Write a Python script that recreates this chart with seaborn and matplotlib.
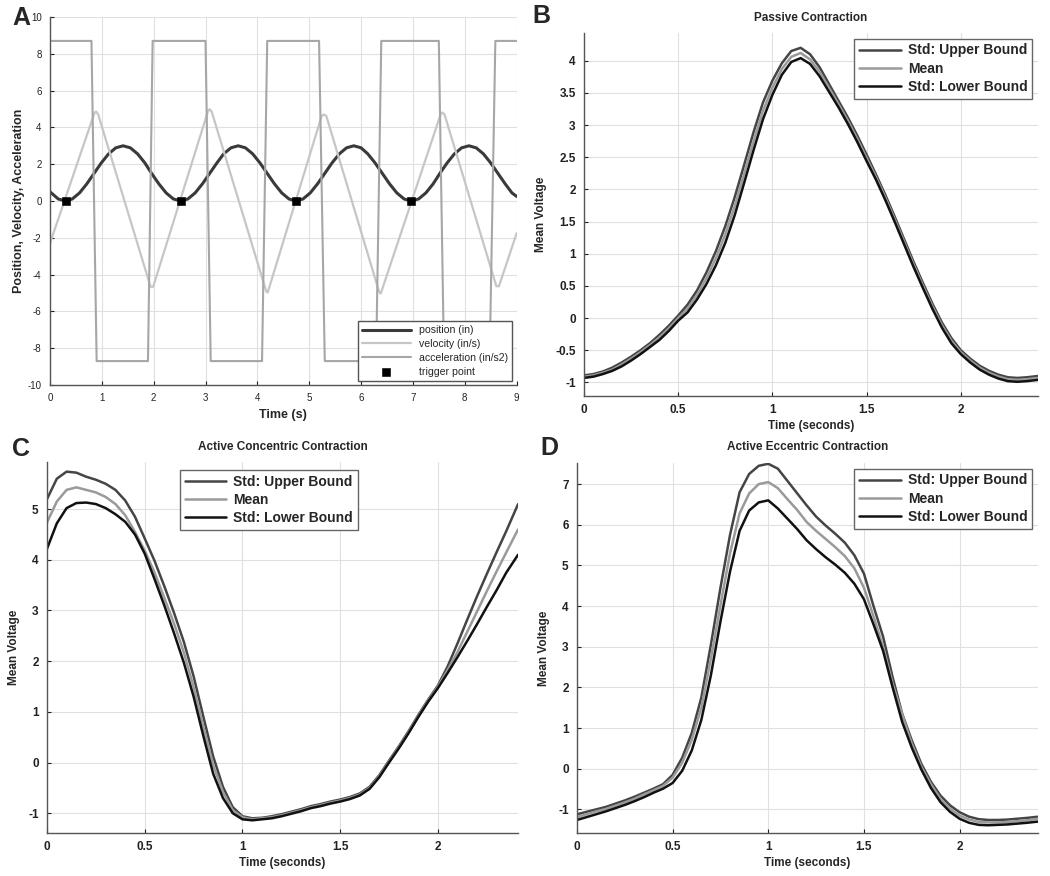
import numpy as np
import pandas as pd
import matplotlib.pyplot as plt
import seaborn as sns
from matplotlib.ticker import FormatStrFormatter

sns.set_style('whitegrid')
plt.rcParams['font.family'] = ['Liberation Sans', 'DejaVu Sans']
plt.rcParams['axes.unicode_minus'] = False
plt.rcParams['lines.solid_joinstyle'] = 'round'

# ---- Panel A: trajectory of the stimulus ----
pos_t = [0.00, 0.16, 0.30, 0.43, 0.57, 0.71, 0.85, 0.99, 1.13, 1.27, 1.41, 1.55,
         1.69, 1.83, 1.96, 2.10, 2.24, 2.38, 2.52, 2.66, 2.80, 2.94, 3.08, 3.22,
         3.35, 3.49, 3.63, 3.77, 3.91, 4.05, 4.19, 4.33, 4.47, 4.61, 4.74, 4.88,
         5.02, 5.16, 5.30, 5.44, 5.58, 5.72, 5.86, 6.00, 6.13, 6.27, 6.41, 6.55,
         6.69, 6.83, 6.97, 7.11, 7.25, 7.39, 7.52, 7.66, 7.80, 7.94, 8.08, 8.22,
         8.36, 8.50, 8.64, 8.78, 8.91, 9.00]
position = [0.50, 0.11, 0.00, 0.11, 0.44, 0.93, 1.50, 2.07, 2.56, 2.89, 3.00, 2.89,
            2.56, 2.07, 1.50, 0.93, 0.44, 0.11, 0.00, 0.11, 0.44, 0.93, 1.50, 2.07,
            2.56, 2.89, 3.00, 2.89, 2.56, 2.07, 1.50, 0.93, 0.44, 0.11, 0.00, 0.11,
            0.44, 0.93, 1.50, 2.07, 2.56, 2.89, 3.00, 2.89, 2.56, 2.07, 1.50, 0.93,
            0.44, 0.11, 0.00, 0.11, 0.44, 0.93, 1.50, 2.07, 2.56, 2.89, 3.00, 2.89,
            2.56, 2.07, 1.50, 0.93, 0.44, 0.25]

vel_t = [0.00, 0.86, 0.89, 0.93, 1.94, 1.99, 3.05, 3.08, 3.12, 4.17, 4.20,
         5.24, 5.28, 5.33, 6.35, 6.38, 7.54, 7.57, 7.61, 8.61, 8.66, 9.00]
velocity = [-2.30, 4.80, 4.86, 4.70, -4.66, -4.66, 4.90, 4.99, 4.85, -4.90, -4.97,
            4.62, 4.70, 4.62, -4.95, -5.03, 4.75, 4.81, 4.70, -4.63, -4.63, -1.76]

acc_t = [0.00, 0.80, 0.90, 1.89, 1.98, 3.00, 3.10, 4.09, 4.19, 5.19, 5.30,
         6.29, 6.39, 7.50, 7.60, 8.48, 8.59, 9.00]
acceleration = [8.7, 8.7, -8.7, -8.7, 8.7, 8.7, -8.7, -8.7, 8.7, 8.7, -8.7,
                -8.7, 8.7, 8.7, -8.7, -8.7, 8.7, 8.7]

trig_t = [0.30, 2.52, 4.74, 6.97]
trig_y = [0, 0, 0, 0]

# ---- Panels B-D: mean voltage traces ----
time_s = [0.00, 0.05, 0.10, 0.15, 0.20, 0.25, 0.30, 0.35, 0.40, 0.45, 0.50, 0.55,
          0.60, 0.65, 0.70, 0.75, 0.80, 0.85, 0.90, 0.95, 1.00, 1.05, 1.10, 1.15,
          1.20, 1.25, 1.30, 1.35, 1.40, 1.45, 1.50, 1.55, 1.60, 1.65, 1.70, 1.75,
          1.80, 1.85, 1.90, 1.95, 2.00, 2.05, 2.10, 2.15, 2.20, 2.25, 2.30, 2.35, 2.41]

passive_upper = [-0.89, -0.87, -0.83, -0.77, -0.69, -0.60, -0.50, -0.39, -0.26, -0.12, 0.04, 0.21,
                 0.43, 0.71, 1.04, 1.43, 1.88, 2.38, 2.89, 3.35, 3.69, 3.96, 4.15, 4.20,
                 4.10, 3.90, 3.64, 3.38, 3.12, 2.84, 2.54, 2.23, 1.91, 1.57, 1.22, 0.87,
                 0.54, 0.22, -0.07, -0.31, -0.50, -0.63, -0.74, -0.82, -0.88, -0.92, -0.93, -0.92, -0.90]
passive_mean = [-0.91, -0.89, -0.85, -0.80, -0.72, -0.63, -0.53, -0.42, -0.30, -0.16, 0.00, 0.15,
                0.36, 0.62, 0.93, 1.30, 1.74, 2.24, 2.75, 3.22, 3.58, 3.87, 4.06, 4.12,
                4.02, 3.83, 3.58, 3.33, 3.07, 2.79, 2.49, 2.19, 1.87, 1.53, 1.18, 0.83,
                0.50, 0.18, -0.11, -0.35, -0.53, -0.66, -0.77, -0.85, -0.91, -0.95, -0.96, -0.95, -0.93]
passive_lower = [-0.93, -0.91, -0.87, -0.82, -0.75, -0.66, -0.56, -0.45, -0.34, -0.20, -0.04, 0.09,
                 0.29, 0.53, 0.82, 1.17, 1.60, 2.10, 2.61, 3.09, 3.47, 3.78, 3.98, 4.04,
                 3.95, 3.76, 3.52, 3.28, 3.02, 2.74, 2.44, 2.15, 1.83, 1.49, 1.14, 0.79,
                 0.46, 0.14, -0.15, -0.39, -0.56, -0.69, -0.80, -0.88, -0.94, -0.98, -0.99, -0.98, -0.96]

conc_upper = [5.20, 5.60, 5.74, 5.72, 5.64, 5.58, 5.50, 5.38, 5.17, 4.85, 4.42, 3.98,
              3.48, 2.95, 2.38, 1.70, 0.90, 0.12, -0.48, -0.88, -1.06, -1.10, -1.09, -1.06,
              -1.02, -0.97, -0.92, -0.86, -0.82, -0.77, -0.73, -0.68, -0.61, -0.48, -0.25, 0.04,
              0.32, 0.62, 0.94, 1.24, 1.52, 1.90, 2.35, 2.82, 3.28, 3.72, 4.15, 4.57, 5.10]
conc_mean = [4.74, 5.15, 5.38, 5.43, 5.38, 5.33, 5.24, 5.10, 4.88, 4.55, 4.18, 3.75,
             3.25, 2.74, 2.17, 1.49, 0.70, -0.05, -0.58, -0.94, -1.08, -1.12, -1.10, -1.08,
             -1.04, -0.99, -0.94, -0.88, -0.84, -0.79, -0.75, -0.70, -0.63, -0.50, -0.27, 0.02,
             0.30, 0.60, 0.92, 1.22, 1.50, 1.83, 2.18, 2.58, 2.98, 3.38, 3.77, 4.15, 4.60]
conc_lower = [4.22, 4.72, 5.02, 5.12, 5.13, 5.10, 5.02, 4.90, 4.75, 4.50, 4.12, 3.62,
              3.10, 2.55, 1.97, 1.30, 0.52, -0.22, -0.70, -1.00, -1.12, -1.14, -1.12, -1.10,
              -1.06, -1.01, -0.96, -0.90, -0.86, -0.81, -0.77, -0.72, -0.65, -0.52, -0.29, 0.00,
              0.28, 0.58, 0.90, 1.20, 1.47, 1.77, 2.08, 2.40, 2.73, 3.07, 3.40, 3.75, 4.10]

ecc_upper = [-1.12, -1.06, -1.00, -0.94, -0.86, -0.78, -0.69, -0.59, -0.49, -0.38, -0.15, 0.27,
             0.88, 1.75, 3.05, 4.45, 5.75, 6.80, 7.25, 7.45, 7.50, 7.38, 7.08, 6.78,
             6.48, 6.20, 5.98, 5.78, 5.56, 5.25, 4.80, 4.00, 3.25, 2.25, 1.35, 0.70,
             0.12, -0.32, -0.66, -0.90, -1.07, -1.18, -1.24, -1.26, -1.26, -1.25, -1.23, -1.21, -1.18]
ecc_mean = [-1.19, -1.12, -1.05, -0.99, -0.91, -0.83, -0.74, -0.63, -0.53, -0.42, -0.22, 0.15,
            0.71, 1.50, 2.70, 4.02, 5.30, 6.28, 6.77, 7.00, 7.05, 6.90, 6.63, 6.37,
            6.07, 5.85, 5.65, 5.45, 5.23, 4.93, 4.45, 3.75, 3.00, 2.10, 1.34, 0.62,
            0.05, -0.38, -0.74, -0.98, -1.15, -1.25, -1.31, -1.32, -1.32, -1.31, -1.29, -1.27, -1.23]
ecc_lower = [-1.26, -1.19, -1.12, -1.05, -0.97, -0.89, -0.80, -0.70, -0.59, -0.49, -0.35, -0.05,
             0.45, 1.20, 2.30, 3.62, 4.85, 5.85, 6.35, 6.55, 6.60, 6.40, 6.15, 5.90,
             5.62, 5.40, 5.20, 5.02, 4.82, 4.55, 4.17, 3.55, 2.90, 2.00, 1.15, 0.52,
             -0.02, -0.47, -0.82, -1.06, -1.23, -1.33, -1.38, -1.39, -1.38, -1.37, -1.35, -1.33, -1.30]

c_upper, c_mean, c_lower = '#454545', '#9a9a9a', '#111111'

fig = plt.figure(figsize=(10.5, 8.76), dpi=100)
axA = fig.add_axes([0.0476, 0.5605, 0.4444, 0.4201])
axB = fig.add_axes([0.5562, 0.5480, 0.4324, 0.4143])
axC = fig.add_axes([0.0448, 0.0491, 0.4486, 0.4235])
axD = fig.add_axes([0.5495, 0.0491, 0.4391, 0.4224])


def style_axes(ax, grid=True, tick_size=8.5, bold=True):
    for s in ['top', 'right']:
        ax.spines[s].set_visible(False)
    for s in ['left', 'bottom']:
        ax.spines[s].set_color('#555555')
        ax.spines[s].set_linewidth(1.0)
    ax.tick_params(direction='in', length=3, width=0.8, left=True, bottom=True,
                   labelsize=tick_size, colors='#222222', pad=6)
    for lab in ax.get_xticklabels() + ax.get_yticklabels():
        lab.set_fontweight('bold' if bold else 'normal')
    ax.grid(grid, color='#e0e0e0', linewidth=0.8)
    ax.set_facecolor('white')


# Panel A
sns.lineplot(x=pos_t, y=position, ax=axA, color='#3a3a3a', linewidth=2.2,
             estimator=None, errorbar=None, label='position (in)')
sns.lineplot(x=vel_t, y=velocity, ax=axA, color='#c6c6c6', linewidth=1.6,
             estimator=None, errorbar=None, label='velocity (in/s)')
sns.lineplot(x=acc_t, y=acceleration, ax=axA, color='#a6a6a6', linewidth=1.5,
             estimator=None, errorbar=None, sort=False, label='acceleration (in/s2)')
sns.scatterplot(x=trig_t, y=trig_y, ax=axA, marker='s', s=28, color='black',
                edgecolor='black', zorder=5, label='trigger point')
axA.set_xlim(0, 9)
axA.set_ylim(-10, 10)
axA.set_xticks(range(0, 10))
axA.set_yticks(range(-10, 11, 2))
style_axes(axA, grid=False, tick_size=7, bold=False)
axA.set_xlabel('Time (s)', fontweight='bold', fontsize=9, labelpad=4)
axA.set_ylabel('Position, Velocity, Acceleration', fontweight='bold', fontsize=9, labelpad=2)
axA.legend(loc='lower right', frameon=True, fancybox=False, edgecolor='#555555',
           framealpha=1, prop={'size': 7.6}, handlelength=4.6, labelspacing=0.35,
           borderaxespad=0.4, borderpad=0.4)

panels = [
    (axB, passive_upper, passive_mean, passive_lower, 'Passive Contraction',
     (-1.21, 4.43), np.arange(-1, 4.01, 0.5), dict(loc='upper right', borderaxespad=0.4)),
    (axC, conc_upper, conc_mean, conc_lower, 'Active Concentric Contraction',
     (-1.39, 5.93), np.arange(-1, 5.01, 1), dict(loc='upper left', bbox_to_anchor=(0.282, 0.978), borderaxespad=0)),
    (axD, ecc_upper, ecc_mean, ecc_lower, 'Active Eccentric Contraction',
     (-1.58, 7.52), np.arange(-1, 7.01, 1), dict(loc='upper right', borderaxespad=0.4)),
]

for ax, up, mn, lo, title, ylim, yt, leg in panels:
    sns.lineplot(x=time_s, y=up, ax=ax, color=c_upper, linewidth=1.8,
                 estimator=None, errorbar=None, label='Std: Upper Bound')
    sns.lineplot(x=time_s, y=mn, ax=ax, color=c_mean, linewidth=1.8,
                 estimator=None, errorbar=None, label='Mean')
    sns.lineplot(x=time_s, y=lo, ax=ax, color=c_lower, linewidth=1.8,
                 estimator=None, errorbar=None, label='Std: Lower Bound')
    ax.set_xlim(0, 2.41)
    ax.set_ylim(*ylim)
    ax.set_xticks([0, 0.5, 1, 1.5, 2])
    ax.set_yticks(yt)
    ax.xaxis.set_major_formatter(FormatStrFormatter('%g'))
    ax.yaxis.set_major_formatter(FormatStrFormatter('%g'))
    style_axes(ax)
    ax.set_title(title, fontweight='bold', fontsize=8.5, pad=9)
    ax.set_xlabel('Time (seconds)', fontweight='bold', fontsize=8.5, labelpad=3)
    ax.set_ylabel('Mean Voltage', fontweight='bold', fontsize=8.5, labelpad=6)
    ax.legend(frameon=True, fancybox=False, edgecolor='#666666', framealpha=1,
              prop={'size': 10, 'weight': 'bold'}, handlelength=3, labelspacing=0.3,
              borderpad=0.35, handletextpad=0.5, **leg)

for txt, x, y in [('A', 12, 6), ('B', 532, 4), ('C', 12, 437), ('D', 540, 436)]:
    fig.text(x / 1050, 1 - y / 876, txt, fontsize=18, fontweight='bold',
             ha='left', va='top')

fig.savefig('out.png', dpi=100, facecolor='white')
